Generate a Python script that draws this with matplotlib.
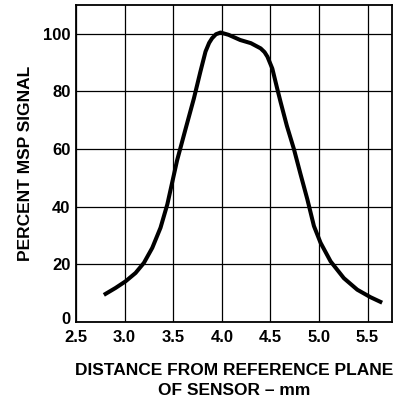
import numpy as np
import matplotlib.pyplot as plt
import matplotlib.transforms as mtransforms

#----------------------------[DATA]----------------------------#
# distance from reference plane (mm) and percent MSP signal
distance = [2.787, 2.907, 3.01, 3.113, 3.199, 3.285, 3.37, 3.44, 3.49, 3.54,
            3.628, 3.713, 3.78, 3.833, 3.87, 3.90, 3.94, 3.988, 4.07, 4.19,
            4.30, 4.40, 4.44, 4.47, 4.52, 4.57, 4.605, 4.67, 4.742, 4.81,
            4.88, 4.948, 5.016, 5.12, 5.256, 5.394, 5.53, 5.65]
signal = [9.4, 11.8, 14.1, 17.0, 20.5, 25.7, 32.7, 40.8, 48.4, 56.0,
          67.0, 77.5, 86.8, 93.8, 96.8, 98.4, 99.8, 100.4, 99.6, 97.8,
          96.7, 94.9, 93.6, 92.0, 87.9, 81.0, 76.3, 68.0, 60.0, 51.3,
          42.6, 33.3, 27.5, 21.0, 15.2, 11.2, 8.6, 6.7]

xticks = [2.5, 3.0, 3.5, 4.0, 4.5, 5.0, 5.5]
yticks = [0, 20, 40, 60, 80, 100]

#----------------------------[PLOT]----------------------------#
plt.rcParams['font.family'] = ['Liberation Sans', 'DejaVu Sans']
plt.rcParams['font.weight'] = 'bold'

fig = plt.figure(figsize=(4.04, 4.03), dpi=100)
ax = fig.add_axes([0.188, 0.201, 0.782, 0.787])

ax.plot(distance, signal, color='black', lw=2.9, solid_capstyle='butt',
        solid_joinstyle='round')

ax.set_xlim(2.5, 5.75)
ax.set_ylim(0, 110)
ax.set_xticks(xticks)
ax.set_xticklabels(['%.1f' % t for t in xticks])
ax.set_yticks(yticks)
ax.grid(True, color='black', lw=0.9)
ax.tick_params(length=0, labelsize=12)
ax.tick_params(axis='x', pad=6)
ax.tick_params(axis='y', pad=4)
for lab in ax.get_xticklabels() + ax.get_yticklabels():
    lab.set_fontweight('bold')
for sp in ax.spines.values():
    sp.set_linewidth(1.3)

# the "0" label sits a little above the axis line, as in the original
zero_lab = ax.get_yticklabels()[0]
zero_lab.set_transform(zero_lab.get_transform() +
                       mtransforms.ScaledTranslation(0, 3 / 72, fig.dpi_scale_trans))

ax.set_xlabel('DISTANCE FROM REFERENCE PLANE\nOF SENSOR – mm', fontsize=12.5,
              fontweight='bold', labelpad=13, linespacing=1.4)
ax.set_ylabel('PERCENT MSP SIGNAL', fontsize=12.5, fontweight='bold', labelpad=7)

fig.savefig('out.png', dpi=100)
